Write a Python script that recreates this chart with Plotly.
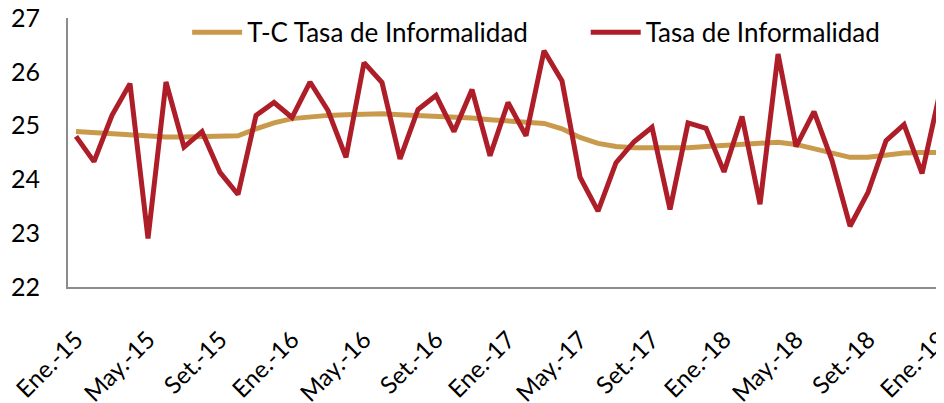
import plotly.graph_objects as go

months = ["Ene.", "Feb.", "Mar.", "Abr.", "May.", "Jun.", "Jul.", "Ago.", "Set.", "Oct.", "Nov.", "Dic."]
years = ["15", "16", "17", "18", "19"]
categories = [f"{m}-{y}" for y in years for m in months][:49]

tasa = [24.80, 24.33, 25.19, 25.78, 22.90, 25.81, 24.60, 24.89, 24.13, 23.72,
        25.19, 25.43, 25.15, 25.81, 25.28, 24.41, 26.17, 25.80, 24.38, 25.30,
        25.56, 24.89, 25.67, 24.44, 25.43, 24.81, 26.39, 25.83, 24.04, 23.41,
        24.31, 24.70, 24.97, 23.44, 25.05, 24.95, 24.14, 25.17, 23.54, 26.33,
        24.61, 25.26, 24.35, 23.13, 23.76, 24.72, 25.02, 24.11, 25.63]

tc_tasa = [24.89, 24.87, 24.85, 24.82, 24.80, 24.79, 24.79, 24.79, 24.79, 24.81,
           24.94, 25.05, 25.13, 25.17, 25.19, 25.20, 25.22, 25.22, 25.20, 25.19,
           25.18, 25.15, 25.14, 25.11, 25.09, 25.07, 25.04, 24.94, 24.78, 24.67,
           24.61, 24.59, 24.59, 24.58, 24.59, 24.61, 24.63, 24.65, 24.67, 24.69,
           24.65, 24.57, 24.48, 24.41, 24.41, 24.46, 24.49, 24.50, 24.50]

tick_labels = categories[::4]
y_ticks = [22, 23, 24, 25, 26, 27]

fig = go.Figure()
fig.add_trace(go.Scatter(x=categories, y=tc_tasa, mode="lines", name="T-C Tasa de Informalidad",
                         line=dict(color="#C99A4B", width=5), legend="legend"))
fig.add_trace(go.Scatter(x=categories, y=tasa, mode="lines", name="Tasa de Informalidad",
                         line=dict(color="#AE1E28", width=5), legend="legend2"))

legend_common = dict(orientation="h", yanchor="middle", xanchor="left", y=0.947,
                     bgcolor="rgba(0,0,0,0)", font=dict(size=26), itemwidth=50)

fig.update_layout(
    width=936, height=395,
    margin=dict(l=60, r=0, t=10, b=116),
    paper_bgcolor="white", plot_bgcolor="white",
    font=dict(family="Lato, Open Sans, sans-serif", color="#000000", size=25),
    showlegend=True,
    legend=dict(x=0.136, **legend_common),
    legend2=dict(x=0.591, **legend_common),
    xaxis=dict(type="category", tickmode="array", tickvals=tick_labels, ticktext=tick_labels,
               tickangle=-45, tickfont=dict(size=24), showgrid=False, showline=True,
               linecolor="#8C8C8C", linewidth=2, ticks="", range=[-0.444, 48.22],
               automargin=False, ticklabelstandoff=27, ticklabeloverflow="allow"),
    yaxis=dict(range=[22, 27], tickvals=y_ticks, showgrid=False, showline=True,
               linecolor="#8C8C8C", linewidth=2, ticks="", tickfont=dict(size=25),
               ticklabelstandoff=21, zeroline=False, automargin=False,
               ticklabeloverflow="allow"),
)

fig.write_html("out.html")
